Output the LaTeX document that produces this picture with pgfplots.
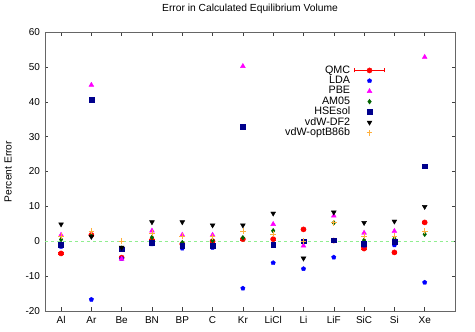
\documentclass[border=0pt]{standalone}
\usepackage{fontspec}
\setmainfont{Liberation Sans}
\usepackage{pgfplots}
\pgfplotsset{compat=1.18}
\definecolor{qmc}{RGB}{255,0,0}
\definecolor{lda}{RGB}{0,0,255}
\definecolor{pbe}{RGB}{255,0,255}
\definecolor{amf}{RGB}{0,100,0}
\definecolor{hse}{RGB}{0,0,140}
\definecolor{vdw}{RGB}{0,0,0}
\definecolor{opt}{RGB}{255,175,60}
\definecolor{zline}{RGB}{144,238,144}
\pgfplotsset{
  mylegend/.style={legend image code/.code={\draw[##1] plot coordinates {(0.53cm,0cm)};\path (0cm,0cm) (1.06cm,0cm);}},
  qmclegend/.style={legend image code/.code={
     \draw[qmc, line width=0.5pt] (0cm,0cm) -- (1.06cm,0cm);
     \draw[qmc, line width=0.5pt] (0cm,-2bp) -- (0cm,2bp);
     \draw[qmc, line width=0.5pt] (1.06cm,-2bp) -- (1.06cm,2bp);
     \fill[qmc] (0.53cm,0cm) circle (2.6bp);}},
}
\begin{document}
\fontsize{10}{11}\selectfont
\begin{tikzpicture}
\useasboundingbox (-45bp,-21bp) rectangle (430bp,311bp);
\begin{axis}[
  at={(0,0)}, anchor=south west, scale only axis,
  width=410bp, height=279bp,
  xmin=-0.53, xmax=13, ymin=-20, ymax=60,
  xtick={0,...,12},
  xticklabels={Al,Ar,Be,BN,BP,C,Kr,LiCl,Li,LiF,SiC,Si,Xe},
  ytick={-20,-10,...,60},
  tick align=inside,
  major tick length=3.5bp,
  tick style={black!75, line width=0.5pt},
  axis line style={black!60, line width=0.8pt},
  /pgf/number format/assume math mode=true,
  ticklabel style={font=\fontsize{10}{11}\selectfont},
  xticklabel style={yshift=-2bp},
  yticklabel style={xshift=-1.5bp},
  title={Error in Calculated Equilibrium Volume},
  title style={at={(axis description cs:0.5,1)}, anchor=center, yshift=17bp, font=\fontsize{10.3}{11}\selectfont},
  ylabel={Percent Error},
  ylabel style={at={(axis description cs:-0.09,0.5)}, anchor=center, font=\fontsize{10.3}{11}\selectfont},
  legend plot pos=right,
  legend cell align=right,
  legend style={draw=none, fill=none, at={(axis description cs:0.578,0.888)}, anchor=north west,
    font=\fontsize{10.8}{11}\selectfont, nodes={inner sep=0pt, text height=7.6bp, text depth=2.4bp}, row sep=0.4bp, column sep=4bp},
]
\addplot[zline, dashed, line width=0.6pt, forget plot] coordinates {(-0.53,0) (13,0)};
% QMC
\addplot[only marks, mark=*, mark size=2.6bp, color=qmc, qmclegend,
  error bars/.cd, y dir=both, y explicit, error bar style={qmc},
  ] coordinates {
(0,-3.5) +- (0,0.3) (1,1.8) +- (0,0.3) (2,-4.7) +- (0,0.3) (3,0.3) +- (0,0.3) (4,-0.8) +- (0,0.3) (5,0.0) +- (0,0.3)
(6,0.6) +- (0,0.3) (7,0.6) +- (0,0.3) (8,3.4) +- (0,0.3) (9,0.2) +- (0,0.3) (10,-2.1) +- (0,0.3) (11,-3.2) +- (0,0.3) (12,5.4) +- (0,0.3)};
\addlegendentry{QMC}
% LDA
\addplot[only marks, mark=pentagon*, mark size=2.3bp, color=lda, mylegend] coordinates {
(0,-1.5) (1,-16.7) (2,-5.0) (3,-0.8) (4,-2.0) (5,-1.8) (6,-13.5) (7,-6.2) (8,-7.9) (9,-4.6) (10,-1.2) (11,-1.1) (12,-11.8)};
\addlegendentry{LDA}
% PBE
\addplot[only marks, mark=triangle*, mark size=2.8bp, color=pbe, mylegend] coordinates {
(0,1.8) (1,44.8) (2,-5.1) (3,3.0) (4,1.8) (5,1.8) (6,50.2) (7,4.9) (8,-1.3) (9,7.3) (10,2.4) (11,2.9) (12,52.8)};
\addlegendentry{PBE}
% AM05
\addplot[only marks, mark=diamond*, mark size=2.4bp, color=amf, mylegend] coordinates {
(0,0.5) (1,1.5) (2,-2.0) (3,1.1) (4,-0.4) (5,0.2) (6,1.0) (7,3.0) (8,0.0) (9,5.3) (10,0.3) (11,0.7) (12,2.0)};
\addlegendentry{AM05}
% HSEsol
\addplot[only marks, mark=square*, mark size=2.4bp, color=hse, mylegend] coordinates {
(0,-1.1) (1,40.5) (2,-2.3) (3,-0.4) (4,-1.2) (5,-1.2) (6,32.8) (7,-1.1) (8,0.0) (9,0.3) (10,-0.6) (11,-0.1) (12,21.5)};
\addlegendentry{HSEsol}
% vdW-DF2
\addplot[only marks, mark=triangle*, mark options={rotate=180}, mark size=2.8bp, color=vdw, mylegend] coordinates {
(0,4.9) (1,1.3) (2,-1.8) (3,5.5) (4,5.5) (5,4.6) (6,4.6) (7,8.0) (8,-4.9) (9,8.3) (10,5.3) (11,5.7) (12,9.9)};
\addlegendentry{vdW-DF2}
% vdW-optB86b
\addplot[only marks, mark=+, mark size=2.8bp, color=opt, line width=0.7pt, mylegend] coordinates {
(0,1.5) (1,2.9) (2,0.1) (3,2.4) (4,1.5) (5,1.3) (6,2.9) (7,2.1) (8,0.0) (9,5.3) (10,1.5) (11,1.5) (12,2.9)};
\addlegendentry{vdW-optB86b}
\end{axis}
\end{tikzpicture}
\end{document}
